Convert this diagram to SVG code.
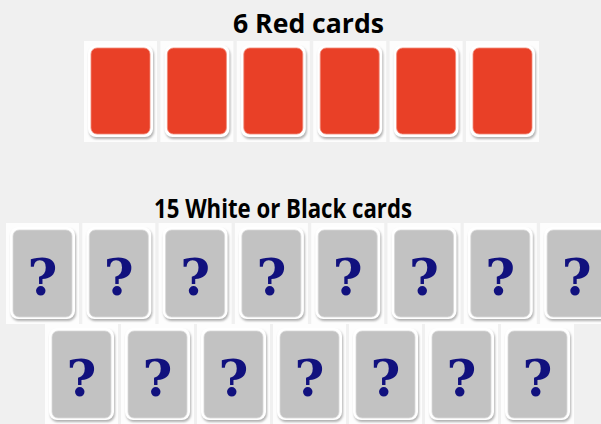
<svg xmlns="http://www.w3.org/2000/svg" xmlns:xlink="http://www.w3.org/1999/xlink" width="601" height="424" viewBox="0 0 601 424">
<style>
.title{font-family:"Open Sans","Liberation Sans",sans-serif;font-weight:bold;fill:#000;}
.qm{font-family:"DejaVu Serif","Liberation Serif",serif;font-weight:bold;font-size:51px;fill:#11117e;text-anchor:middle;}
</style>
<defs>
<filter id="sh" x="-20%" y="-20%" width="140%" height="140%">
<feGaussianBlur stdDeviation="1"/>
</filter>
<g id="cardbase">
<rect x="-7" y="-7" width="73" height="101" fill="#fdfdfd"/>
<rect x="-2" y="-1" width="65" height="92" rx="8" fill="#b0b0b0" filter="url(#sh)"/>
<rect x="-3" y="-3" width="65" height="92" rx="8" fill="#ffffff"/>
</g>
<g id="redcard">
<use xlink:href="#cardbase"/>
<rect x="0" y="0" width="59" height="86" rx="6" fill="#e94027" stroke="#f08a7a" stroke-width="0.8"/>
</g>
<g id="qcard">
<use xlink:href="#cardbase"/>
<rect x="0" y="0" width="59" height="87" rx="6" fill="#c2c2c2" stroke="#d8d8d8" stroke-width="0.8"/>
<text class="qm" x="29.5" y="65">?</text>
</g>
</defs>
<rect width="601" height="424" fill="#f0f0f0"/>
<g id="labels">
<text class="title" x="233" y="33" font-size="27" textLength="151" lengthAdjust="spacingAndGlyphs">6 Red cards</text>
<text class="title" x="154" y="218" font-size="27" textLength="258" lengthAdjust="spacingAndGlyphs">15 White or Black cards</text>
</g>
<g id="connectors"></g>
<g id="red1" transform="translate(91,48)"><use xlink:href="#redcard"/></g>
<g id="red2" transform="translate(167.4,48)"><use xlink:href="#redcard"/></g>
<g id="red3" transform="translate(243.8,48)"><use xlink:href="#redcard"/></g>
<g id="red4" transform="translate(320.2,48)"><use xlink:href="#redcard"/></g>
<g id="red5" transform="translate(396.6,48)"><use xlink:href="#redcard"/></g>
<g id="red6" transform="translate(473,48)"><use xlink:href="#redcard"/></g>
<g id="q1" transform="translate(13,230)"><use xlink:href="#qcard"/></g>
<g id="q2" transform="translate(89.3,230)"><use xlink:href="#qcard"/></g>
<g id="q3" transform="translate(165.6,230)"><use xlink:href="#qcard"/></g>
<g id="q4" transform="translate(241.9,230)"><use xlink:href="#qcard"/></g>
<g id="q5" transform="translate(318.2,230)"><use xlink:href="#qcard"/></g>
<g id="q6" transform="translate(394.5,230)"><use xlink:href="#qcard"/></g>
<g id="q7" transform="translate(470.8,230)"><use xlink:href="#qcard"/></g>
<g id="q8" transform="translate(547.1,230)"><use xlink:href="#qcard"/></g>
<g id="q9" transform="translate(52,331)"><use xlink:href="#qcard"/></g>
<g id="q10" transform="translate(128,331)"><use xlink:href="#qcard"/></g>
<g id="q11" transform="translate(204,331)"><use xlink:href="#qcard"/></g>
<g id="q12" transform="translate(280,331)"><use xlink:href="#qcard"/></g>
<g id="q13" transform="translate(356,331)"><use xlink:href="#qcard"/></g>
<g id="q14" transform="translate(432,331)"><use xlink:href="#qcard"/></g>
<g id="q15" transform="translate(508,331)"><use xlink:href="#qcard"/></g>
</svg>
